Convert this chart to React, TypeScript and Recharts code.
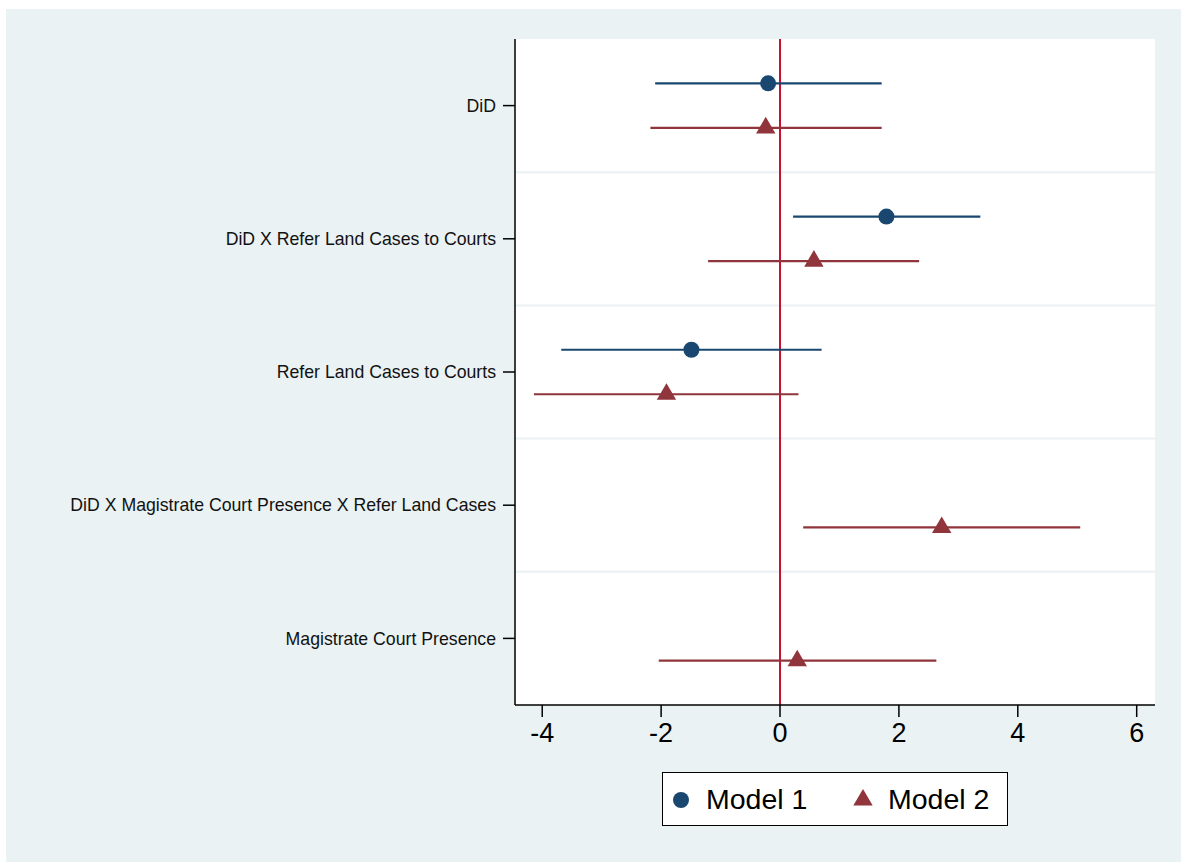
import { ScatterChart, Scatter, XAxis, YAxis, ErrorBar, ReferenceLine, CartesianGrid } from 'recharts'

const categories = [
  'DiD',
  'DiD X Refer Land Cases to Courts',
  'Refer Land Cases to Courts',
  'DiD X Magistrate Court Presence X Refer Land Cases',
  'Magistrate Court Presence',
]

// point estimates and 95% CI bounds; null = not in that model
const model1Est = [-0.2, 1.79, -1.49, null, null]
const model1Lo = [-2.1, 0.22, -3.68, null, null]
const model1Hi = [1.71, 3.37, 0.7, null, null]

const model2Est = [-0.24, 0.57, -1.91, 2.72, 0.29]
const model2Lo = [-2.18, -1.21, -4.14, 0.39, -2.04]
const model2Hi = [1.71, 2.34, 0.31, 5.05, 2.63]

const xTicks = [-4, -2, 0, 2, 4, 6]

const NAVY = '#1a476f'
const MAROON = '#90353b'
const ZERO = '#c8102e'
const BG = '#eaf2f3'
const FONT = '"Liberation Sans", Arial, sans-serif'

// each model sits a little above/below the category row
const OFFSET = 0.167

function buildRows(est: (number | null)[], lo: (number | null)[], hi: (number | null)[], shift: number) {
  const rows: { x: number; y: number; err: [number, number] }[] = []
  est.forEach((e, i) => {
    if (e === null) return
    rows.push({ x: e, y: i + 1 + shift, err: [e - (lo[i] as number), (hi[i] as number) - e] })
  })
  return rows
}

const model1Rows = buildRows(model1Est, model1Lo, model1Hi, -OFFSET)
const model2Rows = buildRows(model2Est, model2Lo, model2Hi, OFFSET)

const Dot = (props: any) => <circle cx={props.cx} cy={props.cy} r={8} fill={NAVY} />

const Tri = (props: any) => {
  const { cx, cy } = props
  return <polygon points={`${cx},${cy - 11} ${cx - 9.7},${cy + 5.6} ${cx + 9.7},${cy + 5.6}`} fill={MAROON} />
}

export default function App() {
  return (
    <div style={{ position: 'absolute', left: 6, top: 9, width: 1175, height: 853, background: BG }}>
      <ScatterChart width={1175} height={853} margin={{ top: 30, right: 26, left: 0, bottom: 0 }}>
        <CartesianGrid fill="#ffffff" fillOpacity={1} horizontal={false} vertical={false} />
        <XAxis
          type="number"
          dataKey="x"
          domain={[-4.458, 6.308]}
          ticks={xTicks}
          allowDataOverflow
          height={157}
          tickSize={12}
          tickMargin={6}
          axisLine={{ stroke: '#000', strokeWidth: 1.5 }}
          tickLine={{ stroke: '#000', strokeWidth: 1.5 }}
          tick={{ fill: '#000', fontSize: 27, fontFamily: FONT }}
        />
        <YAxis
          type="number"
          dataKey="y"
          domain={[0.5, 5.5]}
          reversed
          ticks={[1, 2, 3, 4, 5]}
          tickFormatter={(v: number) => categories[v - 1] ?? ''}
          width={509}
          tickSize={12}
          tickMargin={7}
          axisLine={{ stroke: '#000', strokeWidth: 1.5 }}
          tickLine={{ stroke: '#000', strokeWidth: 1.5 }}
          tick={{ fill: '#111', fontSize: 17.7, fontFamily: FONT }}
        />
        {[1.5, 2.5, 3.5, 4.5].map((b) => (
          <ReferenceLine key={b} y={b} stroke={BG} strokeWidth={2} />
        ))}
        <ReferenceLine x={0} stroke={ZERO} strokeWidth={2} />
        <Scatter name="Model 1" data={model1Rows} shape={Dot} isAnimationActive={false}>
          <ErrorBar dataKey="err" direction="x" width={0} stroke={NAVY} strokeWidth={2.2} />
        </Scatter>
        <Scatter name="Model 2" data={model2Rows} shape={Tri} isAnimationActive={false}>
          <ErrorBar dataKey="err" direction="x" width={0} stroke={MAROON} strokeWidth={2.2} />
        </Scatter>
      </ScatterChart>
      <div
        style={{
          position: 'absolute',
          left: 656,
          top: 763,
          width: 344,
          height: 52,
          border: '1px solid #000',
          background: '#fff',
          fontFamily: FONT,
          fontSize: 28.5,
          color: '#000',
        }}
      >
        <svg width={40} height={52} style={{ position: 'absolute', left: 0, top: 0 }}>
          <circle cx={18} cy={27} r={8} fill={NAVY} />
        </svg>
        <span style={{ position: 'absolute', left: 43, top: 10, lineHeight: '32px' }}>Model 1</span>
        <svg width={40} height={52} style={{ position: 'absolute', left: 180, top: 0 }}>
          <polygon points="20,16 10.3,32.6 29.7,32.6" fill={MAROON} />
        </svg>
        <span style={{ position: 'absolute', left: 225, top: 10, lineHeight: '32px' }}>Model 2</span>
      </div>
    </div>
  )
}
